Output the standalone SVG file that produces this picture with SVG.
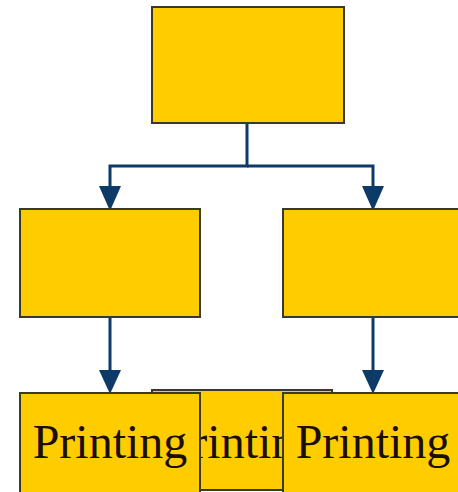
<svg xmlns="http://www.w3.org/2000/svg" width="458" height="492" viewBox="0 0 458 492">
<style>
.box{fill:#FFCC00;stroke:#3a3a2a;stroke-width:2}
.lbl{font-family:"Liberation Serif",serif;font-size:48px;fill:#1a0f00;text-anchor:middle}
.conn{fill:none;stroke:#0d3a66;stroke-width:3}
</style>
<defs>
<marker id="arr" markerUnits="userSpaceOnUse" markerWidth="22" markerHeight="24" refX="11" refY="24" orient="auto-start-reverse" viewBox="0 0 22 24">
<path d="M0,0 L22,0 L11,24 Z" fill="#0d3a66" transform="rotate(-90 11 12)"/>
</marker>
</defs>
<g id="connectors">
<path class="conn" d="M247,123 V166 H110 V188"/>
<path class="conn" d="M247,166 H373 V188"/>
<path class="conn" d="M110,317 V372"/>
<path class="conn" d="M373,317 V372"/>
<path d="M99,186 L121,186 L110,211 Z" fill="#0d3a66"/>
<path d="M362,186 L384,186 L373,211 Z" fill="#0d3a66"/>
<path d="M99,370 L121,370 L110,394 Z" fill="#0d3a66"/>
<path d="M362,370 L384,370 L373,394 Z" fill="#0d3a66"/>
</g>
<g id="top"><rect class="box" x="152" y="7" width="192" height="116"/></g>
<g id="left"><rect class="box" x="20" y="209" width="180" height="108"/></g>
<g id="right"><rect class="box" x="283" y="209" width="182" height="108"/></g>
<g id="bottom-middle"><rect class="box" x="152" y="390" width="180" height="100"/><text class="lbl" x="242" y="458">Printing</text></g>
<g id="bottom-left"><rect class="box" x="20" y="393" width="180" height="110"/><text class="lbl" x="110" y="458">Printing</text></g>
<g id="bottom-right"><rect class="box" x="283" y="393" width="182" height="110"/><text class="lbl" x="373" y="458">Printing</text></g>
</svg>
